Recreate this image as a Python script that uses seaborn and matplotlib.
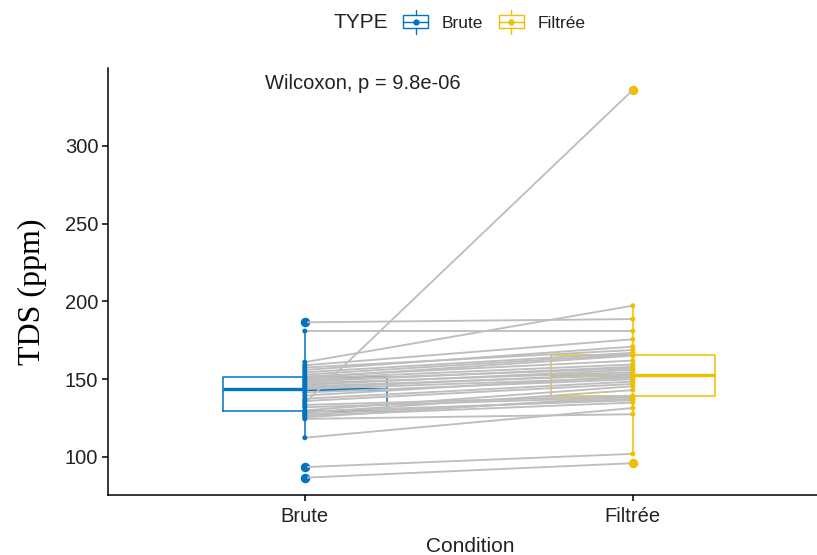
import numpy as np
import pandas as pd
import matplotlib
matplotlib.use("Agg")
import matplotlib.pyplot as plt
import seaborn as sns
from matplotlib.patches import Rectangle
from matplotlib.lines import Line2D
from matplotlib.legend_handler import HandlerBase

# ---------------- data (paired order: index i = same sample) ----------------
categories = ["Brute", "Filtrée"]
type_colors = ["#0073C2", "#EFC000"]
brute = [86.7, 93.5, 112.4, 124.5, 125.5, 126.5, 127.5, 128.5, 129.2, 130.0,
         132.0, 133.5, 134.7, 136.0, 137.5, 139.5, 141.5, 143.7, 144.5, 145.5,
         146.5, 147.5, 148.5, 149.5, 150.5, 151.0, 151.8, 153.0, 154.5, 156.0,
         157.5, 159.0, 161.0, 181.0, 186.6]
filtree = [96.0, 102.0, 131.5, 127.5, 139.0, 135.0, 137.5, 143.0, 136.5, 145.5,
           138.5, 139.4, 336.0, 147.0, 148.5, 152.0, 150.0, 151.0, 153.5, 152.7,
           156.0, 154.5, 158.0, 157.0, 159.5, 165.2, 162.0, 166.0, 167.0, 171.0,
           168.8, 175.7, 197.3, 181.0, 188.7]
yticks = [100, 150, 200, 250, 300]
stat_label = "Wilcoxon, p = 9.8e-06"

sns.set_theme(style="ticks")
plt.rcParams['font.family'] = ['Liberation Sans', 'DejaVu Sans']

n = len(brute)
df = pd.DataFrame({
    "id": list(range(n)) * 2,
    "Condition": [categories[0]] * n + [categories[1]] * n,
    "TDS": brute + filtree,
})
df["TYPE"] = df["Condition"]
df["pos"] = df["Condition"].map({c: i for i, c in enumerate(categories)})

W, H = 817, 555
fig = plt.figure(figsize=(W / 100, H / 100), dpi=100)
ax = fig.add_axes([108 / W, 60 / H, 721.6 / W, 427 / H])

for cat, col in zip(categories, type_colors):
    sns.boxplot(data=df[df["TYPE"] == cat], x="Condition", y="TDS", order=categories,
                color=col, fill=False, width=0.5, linewidth=1.1, showcaps=False,
                flierprops=dict(marker='o', markersize=5.8, markerfacecolor=col,
                                markeredgecolor=col),
                medianprops=dict(linewidth=2.4, color=col),
                ax=ax)

sns.lineplot(data=df, x="pos", y="TDS", units="id", estimator=None,
             color="#BEBEBE", linewidth=1.35, ax=ax, legend=False, zorder=3)

sns.stripplot(data=df, x="Condition", y="TDS", hue="TYPE", order=categories,
              hue_order=categories, palette=type_colors, jitter=False, size=3.6,
              linewidth=0, ax=ax, legend=False, zorder=4)

ax.set_xlim(-0.6, 1.6)
ax.set_ylim(75.56, 350.16)
ax.set_yticks(yticks)
ax.set_yticklabels([str(v) for v in yticks])
ax.set_xticks(range(len(categories)))
ax.set_xticklabels(categories)
for s in ["top", "right"]:
    ax.spines[s].set_visible(False)
for s in ["left", "bottom"]:
    ax.spines[s].set_linewidth(1.1)
    ax.spines[s].set_color("black")
ax.tick_params(axis="both", colors="black", length=4, width=1.1, labelsize=14.5)
ax.tick_params(axis="x", pad=5)
ax.tick_params(axis="y", pad=3)
ax.tick_params(axis="both", labelcolor="#222222")
ax.grid(False)

ax.set_xlabel("Condition", fontsize=15, color="#222222")
ax.xaxis.set_label_coords(0.5017, -0.098)
ax.set_ylabel("TDS (ppm)", fontsize=23, family=["Liberation Serif", "DejaVu Serif"],
              color="black")
ax.yaxis.set_label_coords(-0.0845, 0.475)

ax.text(-0.122, 340.5, stat_label, ha="left", va="center", fontsize=14.5, color="#222222")


class BoxHandler(HandlerBase):
    def create_artists(self, legend, orig_handle, xdescent, ydescent, width, height,
                       fontsize, trans):
        c = orig_handle.get_color()
        x0, y0 = -xdescent, -ydescent
        lw = 1.0
        rect = Rectangle((x0, y0), width, height, fill=False, edgecolor=c, lw=lw,
                         transform=trans)
        hl = Line2D([x0, x0 + width], [y0 + height / 2] * 2, color=c, lw=lw, transform=trans)
        v1 = Line2D([x0 + width / 2] * 2, [y0 + height, y0 + height * 1.45], color=c, lw=lw,
                    transform=trans)
        v2 = Line2D([x0 + width / 2] * 2, [y0 - height * 0.45, y0], color=c, lw=lw,
                    transform=trans)
        dot = Line2D([x0 + width / 2], [y0 + height / 2], marker='o', ms=3.5, color=c,
                     lw=0, transform=trans)
        return [rect, hl, v1, v2, dot]


handles = [Line2D([], [], color=c, label=l) for c, l in zip(type_colors, categories)]
fig.text(333 / W, 1 - 23 / H, "TYPE", ha="left", va="center", fontsize=15, color="#222222")
fig.legend(handles=handles, labels=categories, handler_map={Line2D: BoxHandler()},
           loc="center left", bbox_to_anchor=(403 / W, 1 - 23 / H), ncol=2,
           frameon=False, fontsize=12.5, handlelength=1.44, handleheight=0.75,
           handletextpad=0.8, columnspacing=0.9, borderpad=0, borderaxespad=0,
           labelcolor="#222222")

fig.savefig("out.png", dpi=100)
